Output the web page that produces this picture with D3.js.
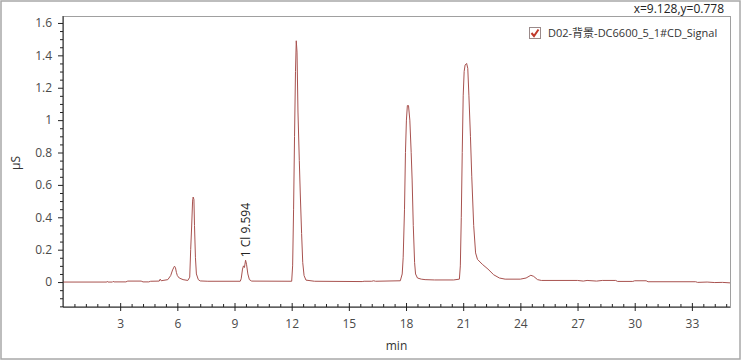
<!DOCTYPE html>
<html>
<head>
<meta charset="utf-8">
<script src="https://cdn.jsdelivr.net/npm/d3@7"></script>
<style>
  body { margin: 0; background: #fff; }
  svg { display: block; }
  .tick text { font-family: "Open Sans", "Noto Sans", sans-serif; font-size: 12px; fill: #4a4a4a; }
</style>
</head>
<body>
<svg id="chart" width="742" height="361"></svg>
<script>
// retention time (min) and conductivity (uS)
var times = [0, 2.3, 2.32, 2.36, 2.6, 2.63, 2.68, 3.3, 3.4, 4.1, 4.2, 4.5, 4.6, 5.05, 5.1, 5.15, 5.25, 5.5,
  5.65, 5.75, 5.85, 5.9, 5.95, 6.0, 6.1, 6.3, 6.55, 6.65, 6.7, 6.75, 6.8, 6.83, 6.87, 6.9, 6.95, 7.0, 7.1, 7.2,
  7.6, 9.3, 9.35, 9.42, 9.47, 9.52, 9.58, 9.63, 9.7, 9.78, 9.9,
  12.0, 12.05, 12.1, 12.15, 12.2, 12.24, 12.28, 12.33, 12.4, 12.45, 12.52, 12.58, 12.65, 12.75, 13.2,
  15.7, 15.8, 16.2, 16.3, 16.4,
  17.7, 17.8, 17.85, 17.92, 17.97, 18.02, 18.07, 18.13, 18.2, 18.27, 18.32, 18.38, 18.45, 18.5, 18.6, 18.8, 19.0, 19.5,
  20.5, 20.8, 20.85, 20.9, 20.95, 21.0, 21.05, 21.1, 21.18, 21.24, 21.3, 21.38, 21.45, 21.55, 21.65, 21.75,
  22.0, 22.3, 22.6, 22.9, 23.2, 24.0, 24.3, 24.55, 24.7, 24.9, 25.1,
  27.0, 27.3, 27.5, 28.0, 28.3, 29.0, 29.1, 29.9, 30.0, 30.6, 30.7, 33.2, 33.3, 33.8, 34.2, 34.6, 35];
var signal = [0, 0, 0.004, 0, 0, 0.004, 0.001, 0.001, 0.006, 0.006, 0.001, 0.001, 0.005, 0.006, 0.018, 0.008, 0.01, 0.015,
  0.04, 0.075, 0.098, 0.09, 0.06, 0.04, 0.025, 0.015, 0.01, 0.03, 0.2, 0.34, 0.5, 0.525, 0.51, 0.35, 0.15, 0.05, 0.015, 0.007,
  0.005, 0.005, 0.02, 0.08, 0.1, 0.09, 0.135, 0.11, 0.05, 0.015, 0.006,
  0.005, 0.1, 0.45, 0.9, 1.3, 1.49, 1.42, 1.05, 0.75, 0.55, 0.3, 0.12, 0.04, 0.012, 0.005,
  0.003, 0.005, 0.005, 0.008, 0.005,
  0.008, 0.05, 0.15, 0.45, 0.8, 1.0, 1.09, 1.09, 1.0, 0.8, 0.63, 0.35, 0.12, 0.05, 0.025, 0.018, 0.015, 0.013,
  0.013, 0.018, 0.1, 0.4, 0.8, 1.15, 1.3, 1.34, 1.35, 1.32, 1.15, 0.9, 0.65, 0.35, 0.18, 0.14,
  0.11, 0.08, 0.045, 0.025, 0.018, 0.018, 0.025, 0.042, 0.035, 0.015, 0.01,
  0.01, 0.006, 0.01, 0.006, 0.01, 0.01, 0.004, 0.004, 0.008, 0.008, 0.002, 0.002, -0.002, 0, -0.003, -0.002, -0.005];

var xTicks = [3, 6, 9, 12, 15, 18, 21, 24, 27, 30, 33];
var yTicks = [0, 0.2, 0.4, 0.6, 0.8, 1, 1.2, 1.4, 1.6];
var peakLabels = [{t: 9.594, v: 0.135, text: "1 Cl 9.594"}];
var seriesName = "D02-背景-DC6600_5_1#CD_Signal";
var cursorText = "x=9.128,y=0.778";

var W = 742, H = 361;
var plotLeft = 63, plotRight = 730, plotTop = 16, plotBottom = 307;
var lineColor = "#a8524f";

var svg = d3.select("#chart");

// outer frame
svg.append("rect").attr("x", 1).attr("y", 1).attr("width", W - 3).attr("height", H - 3)
  .attr("fill", "#fff").attr("stroke", "#a8a8a8").attr("stroke-width", 1.5);

var x = d3.scaleLinear().domain([0, 35]).range([plotLeft, plotRight]);
var y = d3.scaleLinear().domain([-0.154, 1.643]).range([plotBottom, plotTop]);

// plot box
svg.append("rect").attr("x", plotLeft).attr("y", plotTop)
  .attr("width", plotRight - plotLeft).attr("height", plotBottom - plotTop)
  .attr("fill", "#fff").attr("stroke", "#a0a0a0").attr("stroke-width", 1).attr("shape-rendering", "crispEdges");

svg.append("defs").append("clipPath").attr("id", "plotClip")
  .append("rect").attr("x", plotLeft).attr("y", plotTop)
  .attr("width", plotRight - plotLeft).attr("height", plotBottom - plotTop);

var data = times.map(function(t, i) { return {t: t, v: signal[i]}; });
var line = d3.line().x(function(d) { return x(d.t); }).y(function(d) { return y(d.v); });
svg.append("path").datum(data)
  .attr("clip-path", "url(#plotClip)")
  .attr("d", line)
  .attr("fill", "none")
  .attr("stroke", lineColor)
  .attr("stroke-width", 1);

// minor ticks
var xMinor = d3.range(0.6, 35, 0.6).filter(function(v) { return Math.abs(v / 3 - Math.round(v / 3)) > 0.01; });
var yMinor = d3.range(-0.15, 1.64, 0.05).filter(function(v) { return Math.abs(v / 0.2 - Math.round(v / 0.2)) > 0.01; });

svg.append("g").attr("transform", "translate(0," + plotBottom + ")")
  .call(d3.axisTop(x).tickValues(xMinor).tickSize(3).tickFormat(""))
  .call(function(g) { g.select(".domain").remove(); g.selectAll("line").attr("stroke", "#222"); });
svg.append("g").attr("transform", "translate(" + plotLeft + ",0)")
  .call(d3.axisLeft(y).tickValues(yMinor).tickSize(3).tickFormat(""))
  .call(function(g) { g.select(".domain").remove(); g.selectAll("line").attr("stroke", "#222"); });

// major axes
var xAxis = svg.append("g").attr("transform", "translate(0," + plotBottom + ")")
  .call(d3.axisBottom(x).tickValues(xTicks).tickSize(4).tickPadding(8).tickSizeOuter(0));
xAxis.selectAll("line").attr("y1", -4).attr("stroke", "#222");
xAxis.select(".domain").attr("stroke", "#222").attr("d", "M" + plotLeft + ",0H" + plotRight);

var yAxis = svg.append("g").attr("transform", "translate(" + plotLeft + ",0)")
  .call(d3.axisLeft(y).tickValues(yTicks).tickSize(5).tickPadding(6).tickSizeOuter(0)
    .tickFormat(function(d) { return d3.format("~g")(d); }));
yAxis.selectAll("line").attr("stroke", "#222");
yAxis.select(".domain").attr("stroke", "#222").attr("d", "M0," + plotTop + "V" + plotBottom);

// axis titles
svg.append("text").attr("x", (plotLeft + plotRight) / 2).attr("y", 350)
  .attr("text-anchor", "middle").attr("font-family", "Open Sans, Noto Sans, sans-serif")
  .attr("font-size", 12).attr("fill", "#333").text("min");
svg.append("text").attr("transform", "translate(20,163) rotate(-90)")
  .attr("text-anchor", "middle").attr("font-family", "Open Sans, Noto Sans, sans-serif")
  .attr("font-size", 12).attr("fill", "#333").text("μS");

// peak annotation
peakLabels.forEach(function(p) {
  svg.append("text")
    .attr("transform", "translate(" + (x(p.t) + 4) + "," + (y(p.v) - 3) + ") rotate(-90)")
    .attr("font-family", "Open Sans, Noto Sans, sans-serif").attr("font-size", 12)
    .attr("fill", "#222").text(p.text);
});

// cursor readout
svg.append("text").attr("x", 724).attr("y", 13).attr("text-anchor", "end")
  .attr("font-family", "Open Sans, Noto Sans, sans-serif").attr("font-size", 12)
  .attr("fill", "#222").text(cursorText);

// legend
var lg = svg.append("g").attr("transform", "translate(529,27)");
lg.append("rect").attr("x", 0.5).attr("y", 0.5).attr("width", 11).attr("height", 11)
  .attr("fill", "#fff").attr("stroke", "#9a8a8a");
lg.append("path").attr("d", "M2.5,6 L5,9 L9.5,2.5").attr("fill", "none")
  .attr("stroke", "#c0392b").attr("stroke-width", 2);
lg.append("text").attr("x", 19).attr("y", 10).attr("font-family", "Open Sans, Noto Sans CJK SC, sans-serif")
  .attr("font-size", 11).attr("fill", "#333").text(seriesName);
</script>
</body>
</html>
